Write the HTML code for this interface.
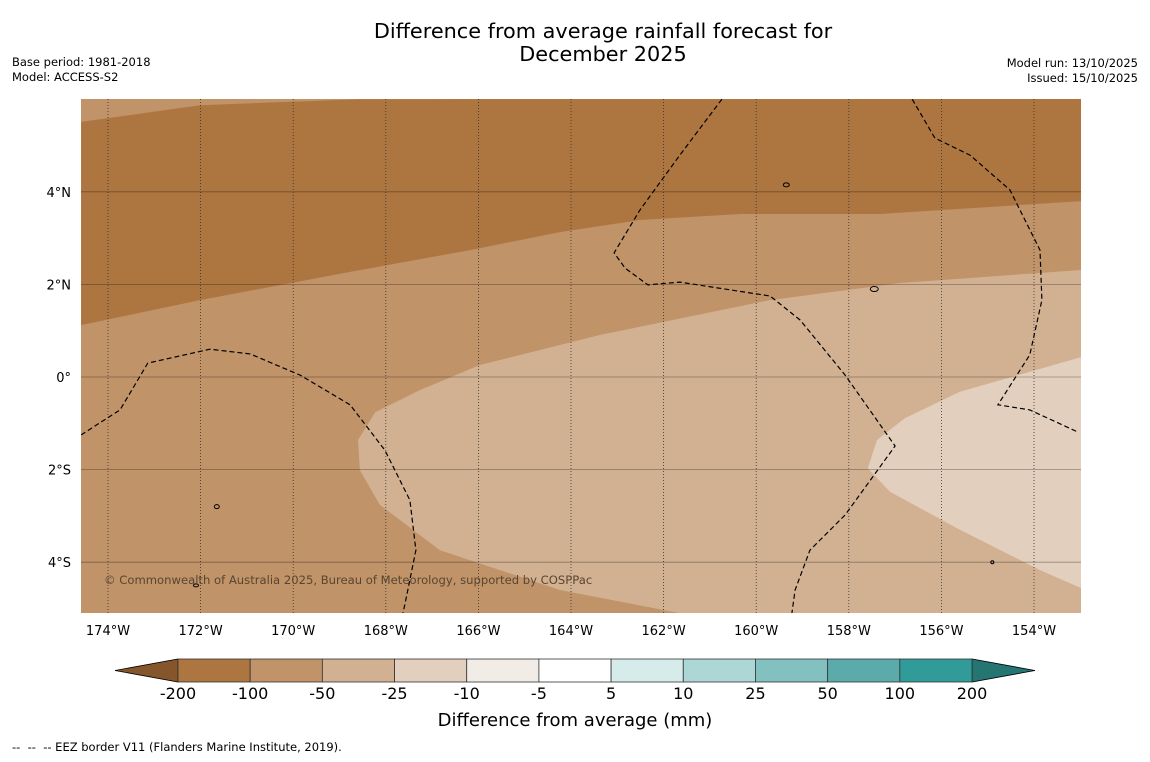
<!DOCTYPE html>
<html><head><meta charset="utf-8"><style>
body{margin:0;background:#fff;font-family:"DejaVu Sans","Liberation Sans",sans-serif;}
svg text{font-family:"DejaVu Sans","Liberation Sans",sans-serif;}
</style></head><body>
<svg id="c" width="1150" height="758" xmlns="http://www.w3.org/2000/svg"></svg>
<script>
const lonTicks=[-174,-172,-170,-168,-166,-164,-162,-160,-158,-156,-154];
const latTicks=[4,2,0,-2,-4];
const cbLabels=["-200","-100","-50","-25","-10","-5","5","10","25","50","100","200"];
const cbColors=["#ad7640","#c09369","#d2b192","#e3cfbd","#f1ede6","#ffffff","#d5ecea","#acd7d6","#82c1bf","#5aabaa","#319b99"];
const topLight=[[-174.58,5.51],[-172.01,5.87],[-168.56,6.0]];
const darkBottom=[[-174.58,1.12],[-172.01,1.66],[-168.77,2.27],[-166.18,2.74],[-164.24,3.13],[-162.51,3.39],[-160.35,3.52],[-157.33,3.52],[-152.98,3.80]];
const mid50=[[-152.98,2.31],[-156.89,2.03],[-159.70,1.66],[-163.37,0.91],[-165.97,0.26],[-167.26,-0.28],[-168.23,-0.76],[-168.60,-1.36],[-168.56,-2.01],[-168.13,-2.76],[-166.83,-3.74],[-164.24,-4.60],[-161.65,-5.10]];
const mid25=[[-152.98,0.43],[-155.60,-0.32],[-156.79,-0.89],[-157.39,-1.36],[-157.59,-1.97],[-157.11,-2.48],[-155.60,-3.30],[-153.87,-4.17],[-152.98,-4.56]];
const eezA=[[-160.74,6.0],[-161.65,4.79],[-162.51,3.61],[-163.07,2.68],[-162.83,2.35],[-162.34,1.99],[-161.65,2.05],[-159.70,1.75],[-159.05,1.23],[-158.08,0.04],[-157.00,-1.49],[-158.08,-2.98],[-158.84,-3.74],[-159.16,-4.60],[-159.23,-5.10]];
const eezB=[[-156.63,6.0],[-156.14,5.16],[-155.38,4.79],[-154.52,4.04],[-153.87,2.74],[-153.83,1.66],[-154.09,0.48],[-154.78,-0.60],[-154.09,-0.71],[-153.05,-1.19]];
const eezC=[[-174.58,-1.25],[-173.74,-0.71],[-173.14,0.30],[-171.80,0.60],[-170.93,0.50],[-169.85,0.04],[-168.77,-0.60],[-168.02,-1.58],[-167.48,-2.66],[-167.35,-3.74],[-167.59,-4.92],[-167.63,-5.10]];

const S=46.3, L=81,R=1081,T=99,B=613;
const X=lon=>108+(lon+174)*S, Y=lat=>377-lat*S;
const svg=document.getElementById('c'), NS="http://www.w3.org/2000/svg";
function mk(t,a,p){const e=document.createElementNS(NS,t);for(const k in a)e.setAttribute(k,a[k]);(p||svg).appendChild(e);return e;}
const pts=a=>a.map(p=>X(p[0]).toFixed(1)+","+Y(p[1]).toFixed(1)).join(" L");
const defs=mk('defs',{});const cp=mk('clipPath',{id:'cl'},defs);mk('rect',{x:L,y:T,width:R-L,height:B-T},cp);
const g=mk('g',{'clip-path':'url(#cl)'});

let e=mk('rect',{x:L,y:T,width:R-L,height:B-T,fill:"#c09369"},g);

e=mk('path',{d:"M"+pts(darkBottom)+" L1081,99 L"+pts(topLight.slice().reverse())+" Z",fill:"#ad7640"},g);

e=mk('path',{d:"M"+pts(mid50)+" L1081,613 Z",fill:"#d2b192"},g);

e=mk('path',{d:"M"+pts(mid25)+" Z",fill:"#e3cfbd"},g);

lonTicks.forEach(v=>{const l=mk('line',{x1:X(v),x2:X(v),y1:T,y2:B,stroke:"#333",'stroke-width':0.8,'stroke-dasharray':"1,2"},g);
});
latTicks.forEach(v=>{const l=mk('line',{x1:L,x2:R,y1:Y(v),y2:Y(v),stroke:"#000",'stroke-opacity':0.35,'stroke-width':0.8},g);
});
[eezA,eezB,eezC].forEach(a=>{const p=mk('path',{d:"M"+pts(a),fill:"none",stroke:"#000",'stroke-width':1.2,'stroke-dasharray':"5,3"},g);
});
[[-159.35,4.15,3,2],[-157.45,1.9,4,2.5],[-171.65,-2.8,2.5,2],[-172.1,-4.5,2.5,1.5],[-154.9,-4.0,1.5,1.5]].forEach(a=>{const p=mk('ellipse',{cx:X(a[0]),cy:Y(a[1]),rx:a[2],ry:a[3],fill:"none",stroke:"#000",'stroke-width':1},g);
});
function txt(x,y,s,t,sz,anc,fill){const el=mk('text',{x:x,y:y,'font-size':sz,'text-anchor':anc||'start',fill:fill||'#000'});el.textContent=t;return el;}
e=txt(104,584,0,"© Commonwealth of Australia 2025, Bureau of Meteorology, supported by COSPPac",11.6,'start','#5a4530');

lonTicks.forEach(v=>{const t=txt(X(v),635,0,Math.abs(v)+"°W",13,'middle');});
latTicks.forEach(v=>{const t=txt(71,Y(v)+5,0,v==0?"0°":Math.abs(v)+"°"+(v>0?"N":"S"),13,'end');});
e=txt(603,38,0,"Difference from average rainfall forecast for",20.8,'middle');
e=txt(603,61,0,"December 2025",20.8,'middle');
e=txt(12,66,0,"Base period: 1981-2018",11.5);
e=txt(12,81,0,"Model: ACCESS-S2",11.5);
e=txt(1138,67,0,"Model run: 13/10/2025",11.5,'end');
e=txt(1138,82,0,"Issued: 15/10/2025",11.5,'end');
const cx0=178,cx1=972,cy0=659,cy1=682,w=(cx1-cx0)/cbColors.length;
e=mk('polygon',{points:`115,670.5 ${cx0},${cy0} ${cx0},${cy1}`,fill:"#85562b",stroke:"#000",'stroke-width':0.8});

e=mk('polygon',{points:`1035,670.5 ${cx1},${cy0} ${cx1},${cy1}`,fill:"#257573",stroke:"#000",'stroke-width':0.8});

cbColors.forEach((c,i)=>{const r=mk('rect',{x:cx0+i*w,y:cy0,width:w,height:cy1-cy0,fill:c,stroke:"#333",'stroke-width':0.8});
});
cbLabels.forEach((s,i)=>{const t=txt(cx0+i*w,699,0,s,16,'middle');});
e=txt(575,726,0,"Difference from average (mm)",18,'middle');
e=mk('text',{x:12,y:751,'font-size':11.5,'xml:space':'preserve'});e.textContent="--  --  -- EEZ border V11 (Flanders Marine Institute, 2019).";e.style.whiteSpace='pre';

</script>
</body></html>
